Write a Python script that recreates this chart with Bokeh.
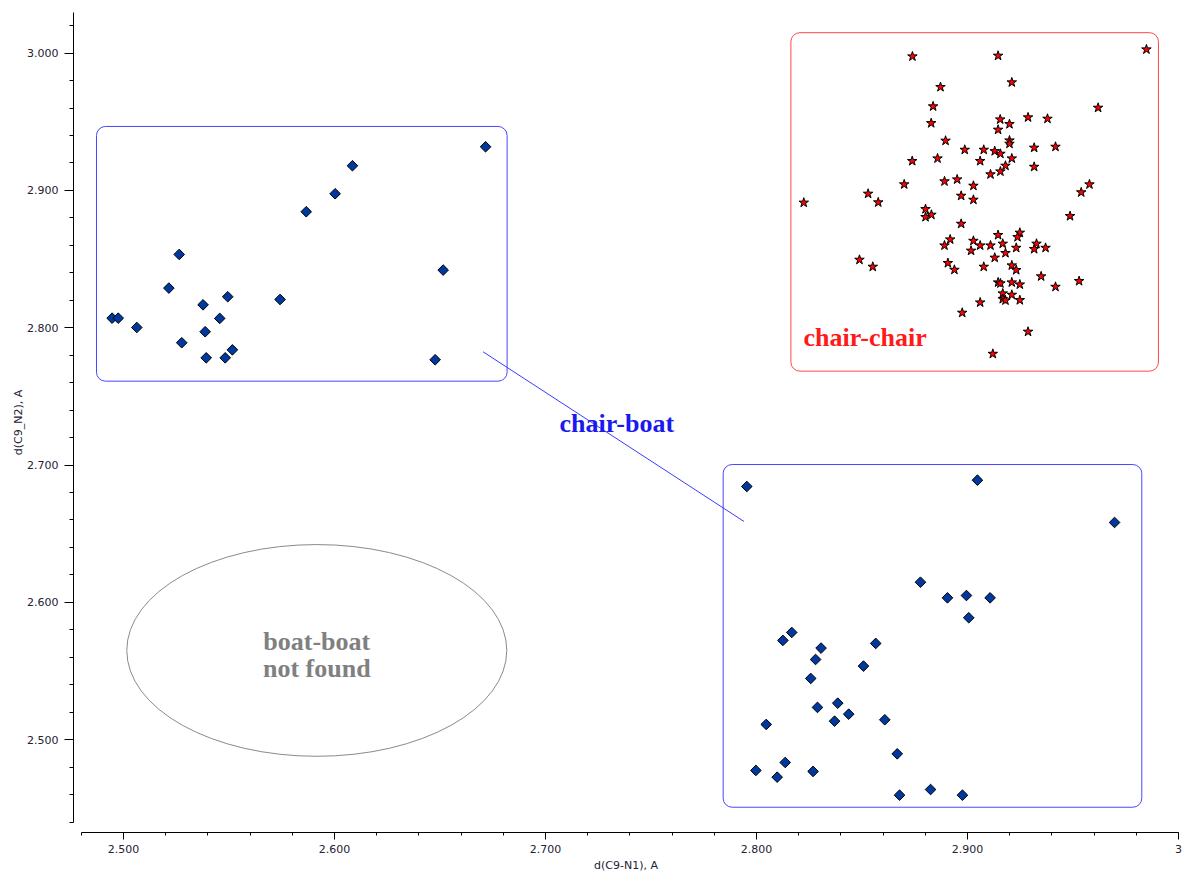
import numpy as np
from bokeh.plotting import figure
from bokeh.models import Range1d, FixedTicker, CustomJSTickFormatter, BoxAnnotation
from bokeh.core.properties import value
from bokeh.embed import file_html
from bokeh.resources import INLINE

# ---------------- data ----------------
# chair-boat, upper-left cluster
cb1_x = [2.6716, 2.6085, 2.6003, 2.5866, 2.5264, 2.5215, 2.5377, 2.5494, 2.5742, 2.6515,
         2.4946, 2.4975, 2.5063, 2.5456, 2.5387, 2.5276, 2.5392, 2.5482, 2.5516, 2.6477]
cb1_y = [2.9318, 2.9180, 2.8976, 2.8845, 2.8534, 2.8289, 2.8167, 2.8226, 2.8206, 2.8420,
         2.8070, 2.8070, 2.8002, 2.8068, 2.7971, 2.7891, 2.7781, 2.7781, 2.7839, 2.7767]

# chair-boat, lower-right cluster
cb2_x = [2.7954, 2.9047, 2.9697, 2.8777, 2.8905, 2.8995, 2.9107, 2.9006, 2.8167, 2.8125,
         2.8306, 2.8280, 2.8565, 2.8507, 2.8257, 2.8385, 2.8289, 2.8437, 2.8370, 2.8608,
         2.8046, 2.8667, 2.8136, 2.7997, 2.8098, 2.8268, 2.8678, 2.8825, 2.8976]
cb2_y = [2.6844, 2.6890, 2.6582, 2.6147, 2.6033, 2.6050, 2.6033, 2.5888, 2.5781, 2.5723,
         2.5667, 2.5584, 2.5701, 2.5536, 2.5446, 2.5266, 2.5235, 2.5186, 2.5135, 2.5145,
         2.5111, 2.4897, 2.4834, 2.4776, 2.4727, 2.4769, 2.4596, 2.4637, 2.4596]

# chair-chair cluster
cc_x = [2.8739, 2.9145, 2.9848, 2.9210, 2.8872, 2.8837, 2.9619, 2.8828, 2.9155, 2.9199,
        2.9287, 2.9379, 2.9145, 2.8896, 2.9199, 2.9199, 2.9316, 2.9417, 2.8987, 2.9077,
        2.9129, 2.9156, 2.8738, 2.8858, 2.9060, 2.9210, 2.9180, 2.9316, 2.9156, 2.9109,
        2.8700, 2.8891, 2.8951, 2.9028, 2.9578, 2.9539, 2.8529, 2.8577, 2.8224, 2.8970,
        2.9028, 2.8801, 2.8801, 2.8829, 2.9486, 2.8970, 2.9145, 2.9248, 2.9237, 2.8918,
        2.8891, 2.9028, 2.9060, 2.9109, 2.9167, 2.9231, 2.9327, 2.9316, 2.9370, 2.9017,
        2.9180, 2.9129, 2.8488, 2.8551, 2.8907, 2.8938, 2.9077, 2.9210, 2.9231, 2.9349,
        2.9529, 2.9145, 2.9156, 2.9210, 2.9248, 2.9417, 2.9167, 2.9210, 2.9167, 2.9180,
        2.9248, 2.9060, 2.8975, 2.9287, 2.9120]
cc_y = [2.9976, 2.9981, 3.0027, 2.9787, 2.9753, 2.9612, 2.9602, 2.9490, 2.9517, 2.9483,
        2.9532, 2.9522, 2.9442, 2.9362, 2.9364, 2.9340, 2.9311, 2.9318, 2.9296, 2.9296,
        2.9286, 2.9267, 2.9214, 2.9233, 2.9214, 2.9233, 2.9180, 2.9172, 2.9138, 2.9117,
        2.9044, 2.9066, 2.9080, 2.9034, 2.9044, 2.8986, 2.8976, 2.8913, 2.8911, 2.8961,
        2.8932, 2.8864, 2.8806, 2.8823, 2.8813, 2.8757, 2.8675, 2.8692, 2.8660, 2.8643,
        2.8599, 2.8633, 2.8599, 2.8599, 2.8612, 2.8582, 2.8612, 2.8573, 2.8582, 2.8561,
        2.8544, 2.8510, 2.8495, 2.8444, 2.8471, 2.8422, 2.8444, 2.8454, 2.8420, 2.8374,
        2.8340, 2.8330, 2.8323, 2.8330, 2.8315, 2.8298, 2.8250, 2.8240, 2.8209, 2.8199,
        2.8201, 2.8184, 2.8109, 2.7971, 2.7810]

# axes
X_MAJOR = [2.5, 2.6, 2.7, 2.8, 2.9, 3.0]
Y_MAJOR = [2.5, 2.6, 2.7, 2.8, 2.9, 3.0]
X_MINOR = [round(2.48 + 0.02 * i, 2) for i in range(27)]
Y_MINOR = [round(2.44 + 0.02 * i, 2) for i in range(30)]
X_LABEL = "d(C9-N1), A"
Y_LABEL = "d(C9_N2), A"

# region boxes: chair-boat (upper-left), chair-boat (lower-right), chair-chair
box_left = [2.4872, 2.7842, 2.8163]
box_right = [2.6818, 2.9826, 2.9905]
box_top = [2.9466, 2.7004, 3.0149]
box_bottom = [2.7611, 2.4508, 2.7684]

# connector between chair-boat boxes
conn_x0, conn_y0, conn_x1, conn_y1 = [2.6704], [2.7825], [2.7941], [2.6589]

# boat-boat ellipse
ell_x, ell_y, ell_w, ell_h = [2.5916], [2.5650], [0.1801], [0.1542]

# labels
lab_cb_x, lab_cb_y, lab_cb_t = [2.7338], [2.7300], ["chair-boat"]
lab_cc_x, lab_cc_y, lab_cc_t = [2.8223], [2.7929], ["chair-chair"]
lab_bb_x, lab_bb_y, lab_bb_t = [2.5916, 2.5916], [2.5715, 2.5519], ["boat-boat", "not found"]

# ---------------- figure ----------------
p = figure(width=1182, height=874, output_backend="svg", toolbar_location=None,
           x_range=Range1d(2.4763, 3.0), y_range=Range1d(2.4324, 3.0296),
           min_border_left=73, min_border_right=4, min_border_top=12, min_border_bottom=42)
p.outline_line_color = None
p.xgrid.visible = False
p.ygrid.visible = False
p.background_fill_color = "white"
p.border_fill_color = "white"

AX_COLOR = "#222233"
for ax in (p.xaxis[0], p.yaxis[0]):
    ax.axis_line_color = "black"
    ax.major_tick_line_color = "black"
    ax.minor_tick_line_color = "black"
    ax.major_tick_in = 0
    ax.minor_tick_in = 0
    ax.major_label_text_font = "DejaVu Sans"
    ax.major_label_text_font_size = "11px"
    ax.major_label_text_color = AX_COLOR
    ax.axis_label_text_font = "DejaVu Sans"
    ax.axis_label_text_font_size = "11px"
    ax.axis_label_text_font_style = "normal"
    ax.axis_label_text_color = AX_COLOR

xa = p.xaxis[0]
xa.ticker = FixedTicker(ticks=X_MAJOR, minor_ticks=X_MINOR)
xa.bounds = (2.48, 3.0)
xa.major_tick_out = 7
xa.minor_tick_out = 3
xa.major_label_standoff = 5
xa.axis_label = X_LABEL
xa.axis_label_standoff = 3
xa.formatter = CustomJSTickFormatter(code="return Math.abs(tick - 3) < 1e-9 ? '3' : tick.toFixed(3);")

ya = p.yaxis[0]
ya.ticker = FixedTicker(ticks=Y_MAJOR, minor_ticks=Y_MINOR)
ya.bounds = (2.44, 3.03)
ya.major_tick_out = 9
ya.minor_tick_out = 4
ya.major_label_standoff = 6
ya.axis_label = Y_LABEL
ya.axis_label_standoff = -1
ya.formatter = CustomJSTickFormatter(code="return tick.toFixed(3);")

# region boxes
box_colors = ["#4747ff", "#4747ff", "#ff4747"]
for l, r, t, b, c in zip(box_left, box_right, box_top, box_bottom, box_colors):
    p.add_layout(BoxAnnotation(left=l, right=r, top=t, bottom=b, fill_alpha=0,
                               fill_color=None, line_color=c, line_alpha=1.0, line_width=1,
                               border_radius=9, level="underlay"))

p.segment(x0=conn_x0, y0=conn_y0, x1=conn_x1, y1=conn_y1, line_color="#3a3aff", line_width=1)
p.ellipse(x=ell_x, y=ell_y, width=ell_w, height=ell_h, fill_color=None,
          line_color="#8a8a8a", line_width=1)

# points
p.scatter(cb1_x, cb1_y, marker="square", angle=np.pi / 4, size=7.5,
          fill_color="#0038a0", line_color="black", line_width=1)
p.scatter(cb2_x, cb2_y, marker="square", angle=np.pi / 4, size=7.5,
          fill_color="#0038a0", line_color="black", line_width=1)
p.scatter(cc_x, cc_y, marker="star", size=10,
          fill_color="#ff0000", line_color="black", line_width=1)

serif = value("Liberation Serif")
p.text(lab_cb_x, lab_cb_y, text=lab_cb_t, text_align="center", text_baseline="alphabetic",
       text_font=serif, text_font_style="bold", text_font_size="26px", text_color="#1a1aee")
p.text(lab_cc_x, lab_cc_y, text=lab_cc_t, text_align="left", text_baseline="alphabetic",
       text_font=serif, text_font_style="bold", text_font_size="26px", text_color="#ff1a1a")
p.text(lab_bb_x, lab_bb_y, text=lab_bb_t, text_align="center", text_baseline="alphabetic",
       text_font=serif, text_font_style="bold", text_font_size="26px", text_color="#808080")

open("out.html", "w").write(file_html(p, INLINE))
